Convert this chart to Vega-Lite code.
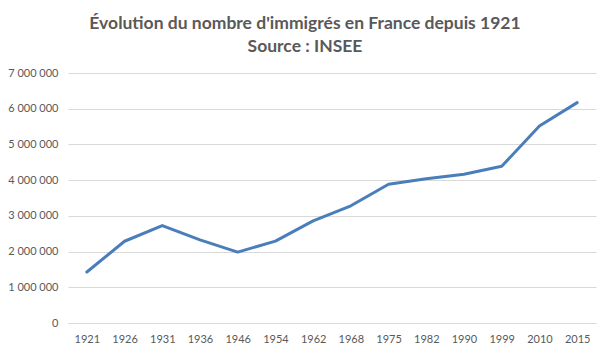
{
  "$schema": "https://vega.github.io/schema/vega-lite/v6.json",
  "autosize": "none",
  "width": 528,
  "height": 250,
  "padding": {"left": 68, "top": 73, "right": 14, "bottom": 32},
  "background": "white",
  "config": {
    "locale": {"number": {"decimal": ",", "thousands": " ", "grouping": [3], "currency": ["", " €"]}},
    "view": {"stroke": null},
    "font": "Lato"
  },
  "title": {
    "text": ["Évolution du nombre d'immigrés en France depuis 1921", "Source : INSEE"],
    "fontSize": 17.5,
    "fontWeight": "bold",
    "color": "#595959",
    "font": "Lato",
    "lineHeight": 23,
    "anchor": "middle",
    "dx": -27,
    "offset": 12
  },
  "data": {
    "values": [
      {"annee": "1921", "immigres": 1429000},
      {"annee": "1926", "immigres": 2289000},
      {"annee": "1931", "immigres": 2729000},
      {"annee": "1936", "immigres": 2326000},
      {"annee": "1946", "immigres": 1986000},
      {"annee": "1954", "immigres": 2293000},
      {"annee": "1962", "immigres": 2861000},
      {"annee": "1968", "immigres": 3281000},
      {"annee": "1975", "immigres": 3887000},
      {"annee": "1982", "immigres": 4037000},
      {"annee": "1990", "immigres": 4166000},
      {"annee": "1999", "immigres": 4387000},
      {"annee": "2010", "immigres": 5514000},
      {"annee": "2015", "immigres": 6170000}
    ]
  },
  "mark": {"type": "line", "color": "#4a7ebb", "strokeWidth": 3, "strokeCap": "round", "strokeJoin": "round"},
  "encoding": {
    "x": {
      "field": "annee",
      "type": "ordinal",
      "sort": null,
      "scale": {"type": "point", "padding": 0.5},
      "axis": {
        "title": null,
        "labelAngle": 0,
        "labelFontSize": 11,
        "labelColor": "#595959",
        "labelPadding": 10,
        "ticks": false,
        "domain": true,
        "domainColor": "#d9d9d9",
        "grid": false
      }
    },
    "y": {
      "field": "immigres",
      "type": "quantitative",
      "scale": {"domain": [0, 7000000], "nice": false},
      "axis": {
        "title": null,
        "values": [0, 1000000, 2000000, 3000000, 4000000, 5000000, 6000000, 7000000],
        "format": ",d",
        "labelFontSize": 11,
        "labelColor": "#595959",
        "labelPadding": 10,
        "ticks": false,
        "domain": false,
        "grid": true,
        "gridColor": "#d9d9d9",
        "gridWidth": 1
      }
    }
  }
}
